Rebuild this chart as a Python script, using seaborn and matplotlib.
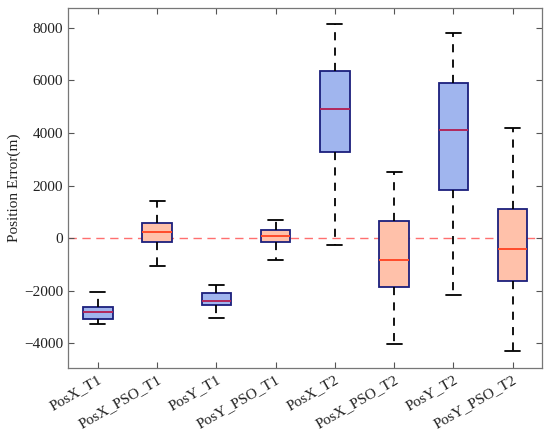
import numpy as np
import pandas as pd
import matplotlib
matplotlib.use("Agg")
import matplotlib.pyplot as plt
import seaborn as sns

# Пятичисловые сводки: min, Q1, медиана, Q3, max
categories = ['PosX_T1', 'PosX_PSO_T1', 'PosY_T1', 'PosY_PSO_T1',
              'PosX_T2', 'PosX_PSO_T2', 'PosY_T2', 'PosY_PSO_T2']
kinds = ['base', 'pso', 'base', 'pso', 'base', 'pso', 'base', 'pso']
wh_low = [-3259, -1078, -3043, -825, -254, -4020, -2181, -4311]
q1 = [-3068, -139, -2536, -166, 3259, -1877, 1839, -1623]
medians = [-2828, 228, -2384, 60, 4933, -850, 4096, -431]
q3 = [-2612, 558, -2092, 290, 6378, 659, 5922, 1103]
wh_high = [-2054, 1395, -1775, 671, 8140, 2498, 7824, 4184]

rows = []
for i, cat in enumerate(categories):
    for v in (wh_low[i], q1[i], medians[i], q3[i], wh_high[i]):
        rows.append({'group': cat, 'kind': kinds[i], 'err': v})
df = pd.DataFrame(rows)

sns.set_style('ticks')
plt.rcParams['font.family'] = ['Liberation Serif', 'DejaVu Serif']

fig, ax = plt.subplots(figsize=(5.5, 4.36), dpi=100)
fig.subplots_adjust(left=0.124, right=0.986, top=0.981, bottom=0.156)

# пунктир по нулю
ax.axhline(0, color='#ff6f6f', ls=(0, (6, 4)), lw=1, zorder=0)

sns.boxplot(data=df, x='group', y='err', hue='kind', order=categories,
            palette={'base': '#a0b5ee', 'pso': '#ffc1aa'}, dodge=False,
            width=0.5, whis=(0, 100), linecolor='#1b1f7c', linewidth=1.3,
            saturation=1, legend=False, ax=ax,
            whiskerprops=dict(color='black', ls=(0, (4.5, 4)), lw=1.3),
            capprops=dict(color='black', lw=1.3),
            medianprops=dict(lw=1.4))

med_colors = {'base': '#b2285c', 'pso': '#ff4a2a'}
for cont, k in zip(ax.containers, ['base', 'pso']):
    for m in cont.medians:
        m.set_color(med_colors[k])

ax.set_xlim(-0.5, 7.5)
ax.set_ylim(-4950, 8750)
ax.set_yticks([-4000, -2000, 0, 2000, 4000, 6000, 8000])
ax.set_yticklabels(['\u22124000', '\u22122000', '0', '2000', '4000', '6000', '8000'])
ax.set_xlabel('')
ax.set_ylabel('Position Error(m)', fontsize=11, color='#222222', labelpad=2)
ax.tick_params(direction='in', top=True, right=True, length=4,
               labelsize=11, colors='#555555', labelcolor='#222222')
plt.setp(ax.get_xticklabels(), rotation=30, ha='right', rotation_mode='anchor')
for s in ax.spines.values():
    s.set_visible(True)
    s.set_color('#777777')
    s.set_linewidth(0.9)

fig.savefig('out.png', dpi=100)
